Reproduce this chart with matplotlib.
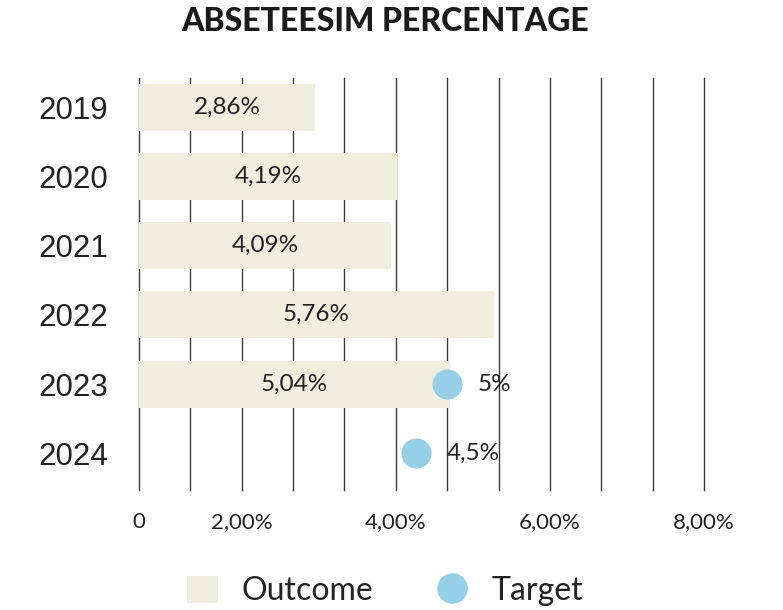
import numpy as np
import matplotlib.pyplot as plt
from matplotlib.lines import Line2D
from matplotlib.patches import Patch

years = ['2019', '2020', '2021', '2022', '2023', '2024']
outcome = [2.86, 4.19, 4.09, 5.76, 5.04, None]
target = [None, None, None, None, 5.0, 4.5]

# vertical guide lines every 5/6 of a percent, labels only on some of them
step = 5.0/6
grid_idx = np.arange(12)
label_idx = [0, 2, 5, 8, 11]
tick_labels = ['0', '2,00%', '4,00%', '6,00%', '8,00%']

bar_col = '#F0EEDF'
dot_col = '#95CFE8'
txt_col = '#222222'

def fmt(v):
    s = ('%.2f' % v).rstrip('0').rstrip('.')
    return s.replace('.', ',') + '%'

fig = plt.figure(figsize=(7.83, 6.10), dpi=100)
ax = fig.add_axes([139/783., (610-490)/610., (704-139)/783., (490-78)/610.])

y = np.arange(len(years))
for i in range(len(years)):
    if outcome[i] is not None:
        ax.barh(y[i], outcome[i], height=0.68, color=bar_col, zorder=2)
        ax.text(outcome[i]/2, y[i], ('%.2f' % outcome[i]).replace('.', ',') + '%',
                ha='center', va='center', fontsize=17.5, family='Lato', color=txt_col, zorder=4)
    if target[i] is not None:
        ax.scatter(target[i], y[i], s=470, color=dot_col, zorder=3, linewidths=0)
        ax.annotate(fmt(target[i]), (target[i], y[i]), xytext=(22, 0), textcoords='offset points',
                    ha='left', va='center', fontsize=17.5, family='Lato', color=txt_col, zorder=4)

for g in grid_idx:
    ax.axvline(g*step, color='#3a3a3a', lw=1.0, zorder=1, clip_on=False)

ax.set_xlim(0, 11*step)
ax.set_ylim(5.53, -0.42)
ax.set_yticks(y)
ax.set_yticklabels(years, fontsize=22.5, family='Liberation Sans', color=txt_col)
ax.set_xticks([i*step for i in label_idx])
ax.set_xticklabels(tick_labels, fontsize=16, family='Lato', color=txt_col)
ax.tick_params(axis='y', length=0, pad=22)
ax.tick_params(axis='x', length=0, pad=16)
for s in ax.spines.values():
    s.set_visible(False)

fig.text(0.492, 0.965, 'ABSETEESIM PERCENTAGE', ha='center', va='center',
         fontsize=23, fontweight='black', family='Lato', color='#1a1a1a')

handles = [Patch(facecolor=bar_col, edgecolor='none', label='Outcome'),
           Line2D([], [], marker='o', ls='none', markersize=22, markerfacecolor=dot_col,
                  markeredgewidth=0, label='Target')]
leg = fig.legend(handles=handles, loc='center', bbox_to_anchor=(0.492, 0.031), ncol=2, frameon=False,
                 prop={'family': 'Lato', 'size': 23}, handlelength=0.95, handleheight=0.95,
                 handletextpad=0.75, columnspacing=2.0)
for t in leg.get_texts():
    t.set_color(txt_col)

fig.savefig('out.png', dpi=100)
